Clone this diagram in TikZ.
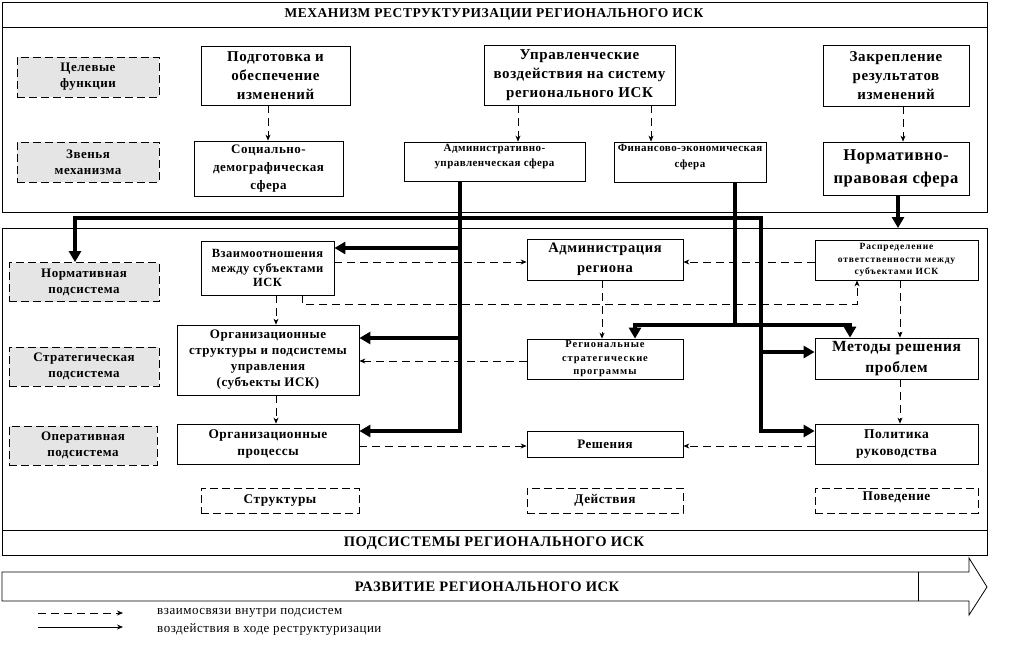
\documentclass[tikz,border=0pt]{standalone}
\usepackage{fontspec}
\setmainfont{Liberation Serif}[LetterSpace=4]
\usetikzlibrary{arrows.meta}
\begin{document}
\begin{tikzpicture}[x=1pt,y=-1pt,
  fs/.style 2 args={font=\bfseries\fontsize{#1}{#2}\selectfont},
  fsw/.style 2 args={font=\bfseries\fontsize{#1}{#2}\selectfont\addfontfeature{LetterSpace=9}},
  frame/.style={draw, line width=0.8pt, inner sep=0pt, anchor=north west},
  box/.style={draw, line width=0.8pt, inner sep=1pt, align=center},
  gbox/.style={draw, line width=0.8pt, dash pattern=on 8pt off 4pt, fill=gray!20, inner sep=1pt, align=center, minimum width=150, minimum height=39, fs={13}{16}},
  dbox/.style={draw, line width=0.8pt, dash pattern=on 8pt off 4pt, inner sep=1pt, align=center, minimum height=25, fs={13.3}{15}},
  dar/.style={line width=0.7pt, dash pattern=on 8pt off 5pt, -{Stealth[length=6pt,width=5pt]}},
  tl/.style={line width=3.8pt},
  tar/.style={line width=3.8pt, -{Triangle[length=11pt,width=12pt]}},
  tarb/.style={line width=3.8pt, {Triangle[length=11pt,width=12pt]}-{Triangle[length=11pt,width=12pt]}},
]
\useasboundingbox (0,0) rectangle (1009,654);

% frames
\node[frame, minimum width=985, minimum height=210] (topf) at (2,2) {};
\draw[line width=0.8pt] ([yshift=-25pt]topf.north west) -- ([yshift=-25pt]topf.north east);
\node[fs={13.5}{16}] (title) at (494,14.5) {МЕХАНИЗМ РЕСТРУКТУРИЗАЦИИ РЕГИОНАЛЬНОГО ИСК};

\node[frame, minimum width=985, minimum height=327] (lowf) at (2,228) {};
\draw[line width=0.8pt] ([yshift=25pt]lowf.south west) -- ([yshift=25pt]lowf.south east);
\node[fs={14.5}{16}] (subt) at (494,543) {ПОДСИСТЕМЫ РЕГИОНАЛЬНОГО ИСК};

% grey labels
\node[gbox, minimum width=142, minimum height=40] (g1) at (88,77) {Целевые\\функции};
\node[gbox, minimum width=142, minimum height=40] (g2) at (88,162) {Звенья\\механизма};
\node[gbox] (g3) at (84,282) {Нормативная\\подсистема};
\node[gbox] (g4) at (84,366.5) {Стратегическая\\подсистема};
\node[gbox, minimum width=148] (g5) at (83,445.5) {Оперативная\\подсистема};

% top boxes
\node[box, minimum width=149, minimum height=59, fs={15}{19}] (a1) at (275.5,75.5) {Подготовка и\\обеспечение\\изменений};
\node[box, minimum width=191, minimum height=60, fs={15}{19}] (a2) at (579.5,75) {Управленческие\\воздействия на систему\\регионального ИСК};
\node[box, minimum width=146, minimum height=61, fs={15}{19}] (a3) at (896,75.5) {Закрепление\\результатов\\изменений};
\node[box, minimum width=149, minimum height=55, fs={13}{18}] (a4) at (268.5,168.5) {Социально-\\демографическая\\сфера};
\node[box, minimum width=181, minimum height=39] (a5) at (494.5,161.5) {};
\node[fs={11}{15}, align=center, anchor=north, inner sep=1pt] (a5t) at ([yshift=-1pt]a5.north) {Административно-\\управленческая сфера};
\node[box, minimum width=152, minimum height=40] (a6) at (690,162) {};
\node[fs={11}{16}, align=center, anchor=north, inner sep=1pt] (a6t) at ([yshift=-1pt]a6.north) {Финансово-экономическая\\сфера};
\node[box, minimum width=146, minimum height=53, fs={16.5}{23}] (a7) at (896,168.5) {Нормативно-\\правовая сфера};

% lower boxes
\node[box, minimum width=133, minimum height=54, fs={12.5}{14.5}] (b1) at (267.5,268) {Взаимоотношения\\между субъектами\\ИСК};
\node[box, minimum width=156, minimum height=41, fs={14.5}{20}] (b2) at (605,259.5) {Администрация\\региона};
\node[box, minimum width=163, minimum height=40, fsw={9.5}{12.5}] (b3) at (896.5,260) {Распределение\\ответственности между\\субъектами ИСК};
\node[box, minimum width=182, minimum height=70, fs={13}{16}] (b4) at (268,360) {Организационные\\структуры и подсистемы\\управления\\(субъекты ИСК)};
\node[box, minimum width=156, minimum height=40, fsw={10.5}{13.5}] (b5) at (605,359) {Региональные\\стратегические\\программы};
\node[box, minimum width=163, minimum height=41, fs={15.5}{21}] (b6) at (896.5,358.5) {Методы решения\\проблем};
\node[box, minimum width=182, minimum height=40, fs={13.3}{17}] (b7) at (268,444) {Организационные\\процессы};
\node[box, minimum width=156, minimum height=26, fs={13}{15}] (b8) at (605,444) {Решения};
\node[box, minimum width=163, minimum height=40, fs={13.5}{16.5}] (b9) at (896.5,444) {Политика\\руководства};

\node[dbox, minimum width=158] (d1) at (280,500.5) {Структуры};
\node[dbox, minimum width=156] (d2) at (605,500.5) {Действия};
\node[dbox, minimum width=163] (d3) at (896.5,500.5) {};
\node[fs={13.3}{15}, inner sep=1pt] (d3t) at ([yshift=3pt]d3.center) {Поведение};

% development arrow
\draw[line width=0.8pt] (2,572) -- (969,572) -- (969,558) -- (987,587) -- (969,615) -- (969,601) -- (2,601) -- cycle;
\draw[line width=0.8pt] (918,572) -- (918,601);
\node[fs={14.5}{16}] (devt) at (487,587) {РАЗВИТИЕ РЕГИОНАЛЬНОГО ИСК};

% legend
\coordinate (l1a) at (38,613); \coordinate (l1b) at (123,613);
\coordinate (l2a) at (38,627); \coordinate (l2b) at (123,627);
\draw[dar] (l1a) -- (l1b);
\draw[line width=0.8pt, -{Stealth[length=6pt,width=5pt]}] (l2a) -- (l2b);
\node[anchor=west, font=\fontsize{13}{15}\selectfont, inner sep=0pt] (lt1) at (157,613) {взаимосвязи внутри подсистем};
\node[anchor=west, font=\fontsize{13}{15}\selectfont, inner sep=0pt] (lt2) at (157,629) {воздействия в ходе реструктуризации};

% helper coordinates
\coordinate (cA) at (268,0); \coordinate (cB) at (518,0); \coordinate (cC) at (651,0);
\coordinate (cR) at (900,0); \coordinate (cU) at (903,0); \coordinate (cT) at (898,0);
\coordinate (cD) at (276,0); \coordinate (cE) at (302,0);
\coordinate (cF) at (857,0); \coordinate (cG) at (602,0);
\coordinate (t0) at (75,0); \coordinate (t1) at (460,0); \coordinate (t2) at (761,0);
\coordinate (t3) at (735,0); \coordinate (t4) at (635,0); \coordinate (t5) at (850,0);
\coordinate (r218) at (0,218); \coordinate (r248) at (0,248); \coordinate (r262) at (0,262);
\coordinate (r304) at (0,304); \coordinate (r325) at (0,325); \coordinate (r338) at (0,338);
\coordinate (r352) at (0,352); \coordinate (r361) at (0,361); \coordinate (r431) at (0,431);
\coordinate (r446) at (0,446);

% dashed connectors
\draw[dar] (a1.south -| cA) -- (a4.north -| cA);
\draw[dar] (a2.south -| cB) -- (a5.north -| cB);
\draw[dar] (a2.south -| cC) -- (a6.north -| cC);
\draw[dar] (a3.south -| cU) -- (a7.north -| cU);
\draw[dar] (b1.south -| cD) -- (b4.north -| cD);
\draw[dar] (b4.south -| cD) -- (b7.north -| cD);
\draw[dar] (b1.east |- r262) -- (b2.west |- r262);
\draw[dar] (b3.west |- r262) -- (b2.east |- r262);
\draw[dar] (b1.south -| cE) |- (cF |- r304) -- (b3.south -| cF);
\draw[dar] (b2.south -| cG) -- (b5.north -| cG);
\draw[dar] (b5.west |- r361) -- (b4.east |- r361);
\draw[dar] (b3.south -| cR) -- (b6.north -| cR);
\draw[dar] (b6.south -| cR) -- (b9.north -| cR);
\draw[dar] (b7.east |- r446) -- (b8.west |- r446);
\draw[dar] (b9.west |- r446) -- (b8.east |- r446);

% thick connectors
\draw[tar] (a7.south -| cT) -- (lowf.north -| cT);
\draw[tar] (a5.south -| t1) -- (t1 |- r431) -- (b7.east |- r431);
\draw[tar] (t1 |- r248) -- (b1.east |- r248);
\draw[tar] (t1 |- r338) -- (b4.east |- r338);
\draw[tarb] (g3.north -| t0) -- (t0 |- r218) -- (t2 |- r218) -- (t2 |- r431) -- (b9.west |- r431);
\draw[tar] (t2 |- r352) -- (b6.west |- r352);
\draw[tl] (a6.south -| t3) -- (t3 |- r325);
\draw[tarb] (b5.north -| t4) -- (t4 |- r325) -- (t5 |- r325) -- (b6.north -| t5);
\end{tikzpicture}
\end{document}
